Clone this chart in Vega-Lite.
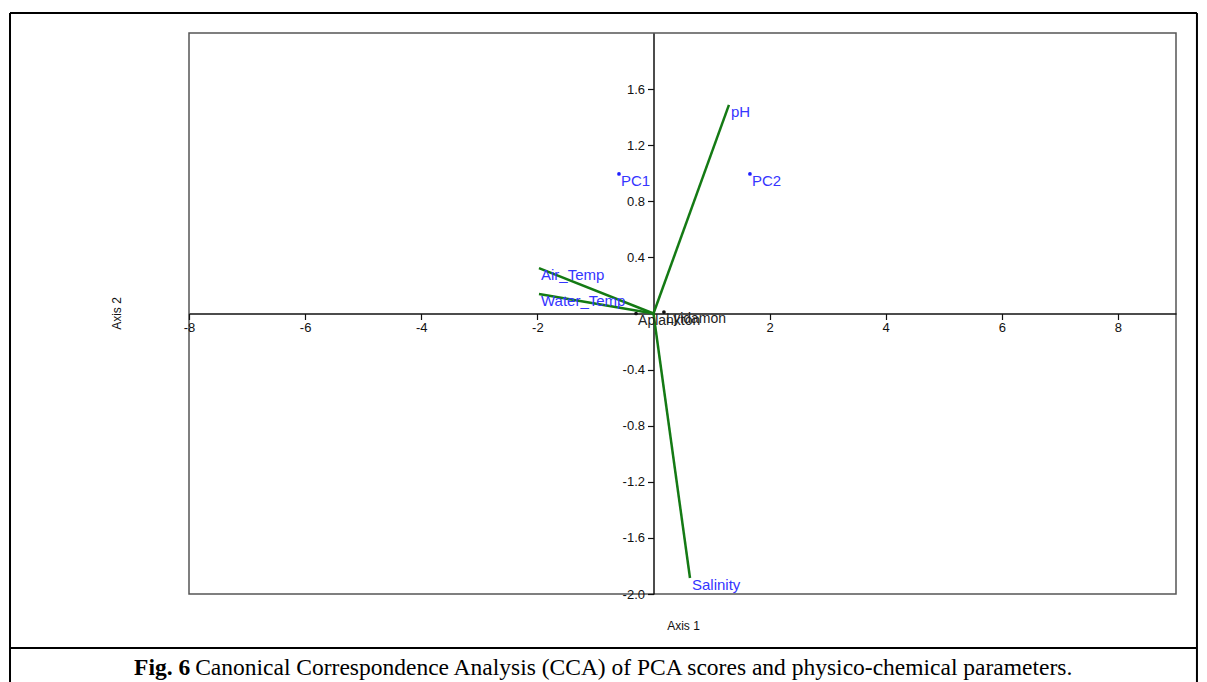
{
  "$schema": "https://vega.github.io/schema/vega-lite/v6.json",
  "width": 987,
  "height": 561,
  "autosize": {"type": "none"},
  "padding": {"left": 189, "top": 33, "right": 31, "bottom": 88},
  "background": "white",
  "config": {
    "view": {"stroke": "#555555", "strokeWidth": 1.5},
    "font": "Liberation Sans",
    "locale": {"number": {"decimal": ".", "thousands": ",", "grouping": [3], "currency": ["$", ""], "minus": "-"}}
  },
  "datasets": {
    "vectors": [
      {"label": "pH", "x": 1.30, "y": 1.487},
      {"label": "Air_Temp", "x": -1.972, "y": 0.324},
      {"label": "Water_Temp", "x": -1.972, "y": 0.139},
      {"label": "Salinity", "x": 0.629, "y": -1.886}
    ],
    "scores": [
      {"label": "PC1", "x": -0.594, "y": 0.995},
      {"label": "PC2", "x": 1.662, "y": 0.995}
    ],
    "species": [
      {"label": "Aplankton", "x": -0.3, "y": 0.0},
      {"label": "Lyidamon", "x": 0.18, "y": 0.01}
    ]
  },
  "layer": [
    {
      "data": {"name": "vectors"},
      "mark": {"type": "rule", "color": "#147a14", "strokeWidth": 2.5},
      "encoding": {
        "x": {
          "field": "x", "type": "quantitative",
          "scale": {"domain": [-8, 9], "nice": false, "zero": false},
          "axis": {
            "title": "Axis 1", "titleFont": "Liberation Sans", "titleFontSize": 12, "titleFontWeight": "normal", "titleColor": "#111",
            "titleX": 494, "titleY": 307, "titleBaseline": "top",
            "offset": -280.5, "values": [-8, -6, -4, -2, 2, 4, 6, 8], "format": "d",
            "grid": false, "domainColor": "#111", "domainWidth": 1.5, "tickColor": "#111", "tickWidth": 1.2, "tickSize": 6,
            "labelFont": "Liberation Sans", "labelFontSize": 13, "labelColor": "#111", "labelPadding": 2, "labelFlush": false
          }
        },
        "y": {
          "field": "y", "type": "quantitative",
          "scale": {"domain": [-2, 2], "nice": false, "zero": false},
          "axis": {
            "title": "Axis 2", "titleFont": "Liberation Sans", "titleFontSize": 12, "titleFontWeight": "normal", "titleColor": "#111",
            "titleX": -530, "titleY": 280, "titleAngle": 270, "titleBaseline": "bottom", "titleAlign": "center",
            "offset": -464.5, "values": [-2, -1.6, -1.2, -0.8, -0.4, 0.4, 0.8, 1.2, 1.6], "format": ".1f",
            "grid": false, "domainColor": "#111", "domainWidth": 1.5, "tickColor": "#111", "tickWidth": 1.2, "tickSize": 6,
            "labelFont": "Liberation Sans", "labelFontSize": 13, "labelColor": "#111", "labelPadding": 3, "labelFlush": false
          }
        },
        "x2": {"datum": 0},
        "y2": {"datum": 0}
      }
    },
    {
      "data": {"name": "vectors"},
      "mark": {"type": "text", "align": "left", "baseline": "middle", "dx": 2, "dy": 7, "font": "Liberation Sans", "fontSize": 15, "color": "#3535ff"},
      "encoding": {
        "x": {"field": "x", "type": "quantitative"},
        "y": {"field": "y", "type": "quantitative"},
        "text": {"field": "label"}
      }
    },
    {
      "data": {"name": "scores"},
      "mark": {"type": "circle", "size": 14, "opacity": 1, "color": "#2020ff"},
      "encoding": {
        "x": {"field": "x", "type": "quantitative"},
        "y": {"field": "y", "type": "quantitative"}
      }
    },
    {
      "data": {"name": "scores"},
      "mark": {"type": "text", "align": "left", "baseline": "middle", "dx": 2, "dy": 7, "font": "Liberation Sans", "fontSize": 15, "color": "#3535ff"},
      "encoding": {
        "x": {"field": "x", "type": "quantitative"},
        "y": {"field": "y", "type": "quantitative"},
        "text": {"field": "label"}
      }
    },
    {
      "data": {"name": "species"},
      "mark": {"type": "circle", "size": 14, "opacity": 1, "color": "#111"},
      "encoding": {
        "x": {"field": "x", "type": "quantitative"},
        "y": {"field": "y", "type": "quantitative"}
      }
    },
    {
      "data": {"name": "species"},
      "mark": {"type": "text", "align": "left", "baseline": "middle", "dx": 2, "dy": 7, "font": "Liberation Sans", "fontSize": 14, "color": "#222"},
      "encoding": {
        "x": {"field": "x", "type": "quantitative"},
        "y": {"field": "y", "type": "quantitative"},
        "text": {"field": "label"}
      }
    },
    {
      "data": {"values": [{}]},
      "mark": {"type": "rule", "color": "black", "strokeWidth": 2},
      "encoding": {"x": {"datum": -11.083}, "x2": {"datum": 9.361}, "y": {"datum": 2.1426}}
    },
    {
      "data": {"values": [{}]},
      "mark": {"type": "rule", "color": "black", "strokeWidth": 2},
      "encoding": {"x": {"datum": -11.083}, "x2": {"datum": 9.361}, "y": {"datum": -2.385}}
    },
    {
      "data": {"values": [{}]},
      "mark": {"type": "rule", "color": "black", "strokeWidth": 2},
      "encoding": {"x": {"datum": -11.083}, "y": {"datum": 2.1426}, "y2": {"datum": -2.7}}
    },
    {
      "data": {"values": [{}]},
      "mark": {"type": "rule", "color": "black", "strokeWidth": 2},
      "encoding": {"x": {"datum": 9.361}, "y": {"datum": 2.1426}, "y2": {"datum": -2.7}}
    },
    {
      "data": {"values": [{}]},
      "mark": {"type": "text", "align": "right", "baseline": "alphabetic", "font": "Liberation Serif", "fontSize": 23.5, "fontWeight": "bold", "color": "black"},
      "encoding": {"x": {"datum": -7.98}, "y": {"datum": -2.5775}, "text": {"value": "Fig. 6"}}
    },
    {
      "data": {"values": [{}]},
      "mark": {"type": "text", "align": "left", "baseline": "alphabetic", "dx": 5, "font": "Liberation Serif", "fontSize": 23.5, "color": "black"},
      "encoding": {"x": {"datum": -7.98}, "y": {"datum": -2.5775}, "text": {"value": "Canonical Correspondence Analysis (CCA) of PCA scores and physico-chemical parameters."}}
    }
  ]
}
